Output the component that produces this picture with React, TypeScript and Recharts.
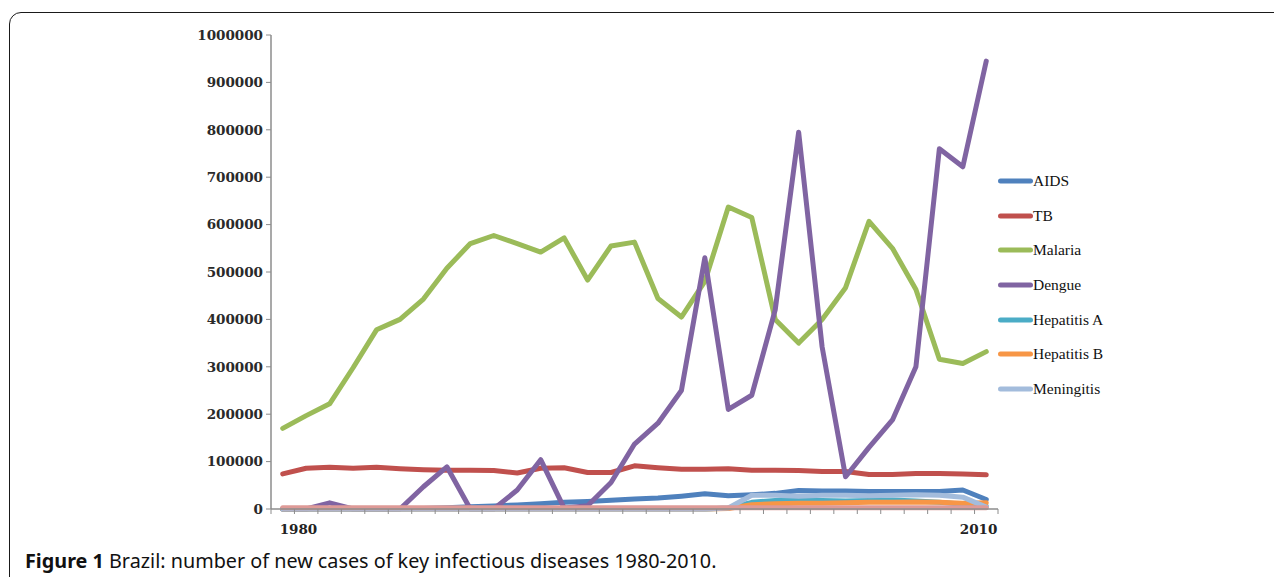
import React from 'react';
import { LineChart, Line, XAxis, YAxis, Legend } from 'recharts';

const years = [1980, 1981, 1982, 1983, 1984, 1985, 1986, 1987, 1988, 1989, 1990, 1991, 1992, 1993, 1994, 1995, 1996, 1997, 1998, 1999, 2000, 2001, 2002, 2003, 2004, 2005, 2006, 2007, 2008, 2009, 2010];

const aids = [0, 0, 0, 30, 100, 500, 1100, 2700, 4500, 6500, 8500, 11000, 14000, 16000, 18500, 21000, 23000, 27000, 32000, 28000, 30000, 33000, 39000, 38000, 38000, 37000, 37000, 37000, 37000, 40000, 20000];
const tb = [74000, 86000, 88000, 86000, 88000, 85000, 83000, 82000, 82000, 81000, 76000, 86000, 87000, 77000, 77000, 91000, 87000, 84000, 84000, 85000, 82000, 82000, 81000, 79000, 79000, 73000, 73000, 75000, 75000, 74000, 72000];
const malaria = [170000, 197000, 222000, 298000, 378000, 400000, 443000, 508000, 560000, 577000, 560000, 542000, 572000, 483000, 555000, 563000, 444000, 405000, 480000, 637000, 615000, 400000, 350000, 400000, 467000, 607000, 550000, 463000, 316000, 307000, 332000];
const dengue = [0, 0, 13000, 0, 0, 0, 47000, 89000, 0, 0, 40000, 104000, 2000, 7000, 56000, 137000, 181000, 250000, 530000, 210000, 240000, 420000, 795000, 342000, 68000, 130000, 188000, 300000, 760000, 722000, 945000];
const hepatitisA = [0, 0, 0, 0, 0, 0, 0, 0, 0, 0, 0, 0, 0, 0, 0, 0, 0, 0, 0, 2000, 14000, 18000, 19000, 18000, 17000, 18000, 19000, 17000, 14000, 10000, 6000];
const hepatitisB = [0, 0, 0, 0, 0, 0, 0, 0, 0, 0, 0, 0, 0, 0, 0, 0, 0, 0, 0, 1000, 9000, 11000, 12000, 12000, 13000, 14000, 14000, 15000, 14000, 12000, 13000];
const meningitis = [0, 0, 0, 0, 0, 0, 0, 0, 0, 0, 0, 0, 0, 0, 0, 0, 0, 0, 0, 2000, 29000, 29000, 27000, 29000, 29000, 28000, 29000, 30000, 29000, 25000, 4000];
const unlabelled = [2500, 2500, 2500, 2500, 2500, 2500, 2500, 2500, 2500, 2500, 2500, 2500, 2500, 2500, 2500, 2500, 2500, 2500, 2500, 2500, 2500, 2500, 2500, 2500, 2500, 2500, 2500, 2500, 2500, 2500, 2500];

const xLabels = ['1980', '2010'];
const yTicks = [0, 100000, 200000, 300000, 400000, 500000, 600000, 700000, 800000, 900000, 1000000];

const series = [
  { key: 'aids', name: 'AIDS', color: '#4F81BD', values: aids, legend: true },
  { key: 'tb', name: 'TB', color: '#C0504D', values: tb, legend: true },
  { key: 'malaria', name: 'Malaria', color: '#9BBB59', values: malaria, legend: true },
  { key: 'dengue', name: 'Dengue', color: '#8064A2', values: dengue, legend: true },
  { key: 'hepA', name: 'Hepatitis A', color: '#4BACC6', values: hepatitisA, legend: true },
  { key: 'hepB', name: 'Hepatitis B', color: '#F79646', values: hepatitisB, legend: true },
  { key: 'meningitis', name: 'Meningitis', color: '#A3BCDC', values: meningitis, legend: true },
  { key: 'other', name: 'other', color: '#DE9A97', values: unlabelled, legend: false },
];

const data = years.map((year, i) => {
  const row: any = { year };
  series.forEach((s) => {
    row[s.key] = s.values[i];
  });
  return row;
});

const firstYear = years[0];
const lastYear = years[years.length - 1];
const xBoundaries = [...years.map((y) => y - 0.5), lastYear + 0.5];

const XTick = (props: any) => {
  const { x, y, payload } = props;
  let text = '';
  if (payload.value === firstYear + 0.5) text = xLabels[0];
  if (payload.value === lastYear - 0.5) text = xLabels[1];
  if (!text) return null;
  return (
    <text x={x + 4} y={y + 18} textAnchor="middle" fill="#222" fontFamily="DejaVu Serif" fontWeight="bold" fontSize={13.5}>
      {text}
    </text>
  );
};

const LegendContent = () => (
  <div style={{ fontFamily: 'Liberation Serif', fontSize: 15.5, color: '#111' }}>
    {series.filter((s) => s.legend).map((s) => (
      <div key={s.key} style={{ height: 34.6, display: 'flex', alignItems: 'center' }}>
        <svg width={35} height={8} style={{ display: 'block' }}>
          <line x1={2.5} y1={4} x2={32.5} y2={4} stroke={s.color} strokeWidth={5} strokeLinecap="round" />
        </svg>
        <span style={{ whiteSpace: 'nowrap' }}>{s.name}</span>
      </div>
    ))}
  </div>
);

export default function App() {
  return (
    <div style={{ position: 'relative', width: 1274, height: 569, overflow: 'hidden', background: '#fff' }}>
      <div
        style={{
          position: 'absolute',
          left: 1,
          top: 4,
          width: 1400,
          height: 700,
          border: '1.5px solid #1a1a1a',
          borderRadius: 12,
          boxSizing: 'border-box',
        }}
      />
      <div style={{ position: 'absolute', left: 0, top: 0 }}>
        <LineChart width={1274} height={545} data={data} margin={{ top: 27, right: 284, left: 0, bottom: 0 }}>
          <XAxis
            dataKey="year"
            type="number"
            domain={[firstYear - 0.5, lastYear + 0.5]}
            ticks={xBoundaries}
            interval={0}
            height={44}
            tickSize={5}
            tickMargin={2}
            axisLine={{ stroke: '#8c8c8c', strokeWidth: 1.5 }}
            tickLine={{ stroke: '#8c8c8c', strokeWidth: 1 }}
            tick={<XTick />}
          />
          <YAxis
            type="number"
            domain={[0, 1000000]}
            ticks={yTicks}
            interval={0}
            width={263}
            tickSize={5}
            tickMargin={3}
            axisLine={{ stroke: '#8c8c8c', strokeWidth: 1.5 }}
            tickLine={{ stroke: '#8c8c8c', strokeWidth: 1 }}
            tick={{ fill: '#2a2a2a', fontSize: 13.5, fontFamily: 'DejaVu Serif', fontWeight: 'bold' }}
          />
          <Legend
            layout="vertical"
            align="center"
            verticalAlign="middle"
            content={<LegendContent />}
            wrapperStyle={{ left: 990, top: 156, width: 160 }}
          />
          {series.map((s) => (
            <Line
              key={s.key}
              dataKey={s.key}
              name={s.name}
              stroke={s.color}
              strokeWidth={5}
              strokeLinejoin="round"
              strokeLinecap="round"
              dot={false}
              activeDot={false}
              legendType={s.legend ? 'line' : 'none'}
              isAnimationActive={false}
            />
          ))}
        </LineChart>
      </div>
      <div
        style={{
          position: 'absolute',
          left: 17,
          top: 539,
          fontFamily: 'Noto Sans',
          fontSize: 19.8,
          color: '#111',
          whiteSpace: 'nowrap',
        }}
      >
        <b>Figure 1</b> Brazil: number of new cases of key infectious diseases 1980-2010.
      </div>
    </div>
  );
}
